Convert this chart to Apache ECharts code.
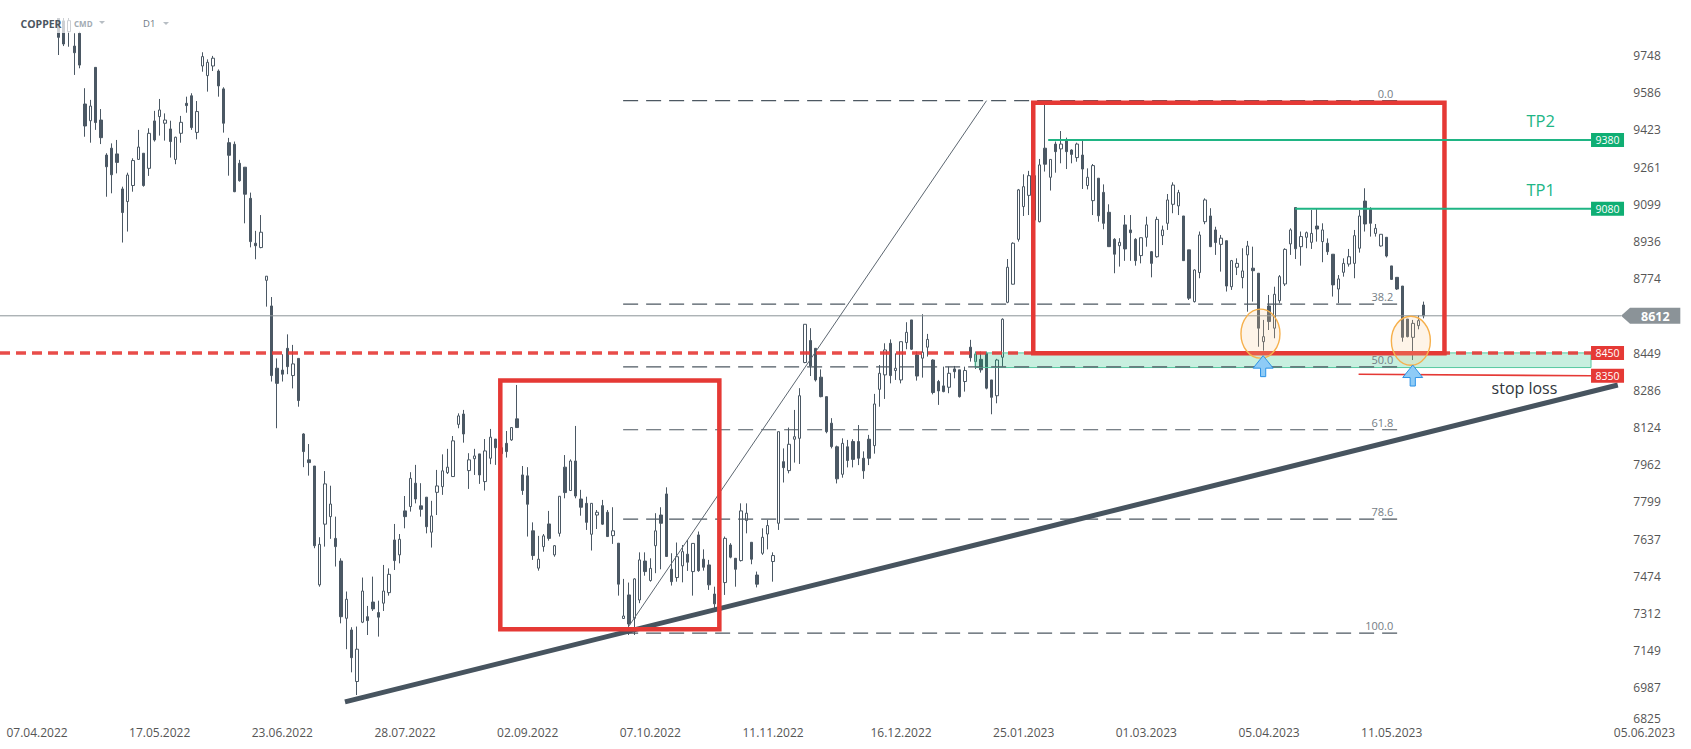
<!DOCTYPE html>
<html>
<head>
<meta charset="utf-8">
<script src="https://cdn.jsdelivr.net/npm/echarts@6/dist/echarts.min.js"></script>
<style>
html,body{margin:0;padding:0;background:#fff;}
#chart{width:1691px;height:749px;}
</style>
</head>
<body>
<div id="chart"></div>
<script>
// ---------------- DATA ----------------
const openP = [
10250,10350,10300,10220,10290,10410,10330,10180,10100,10060,
9925,9900,9853,9790,9846,9537,9464,9697,9467,9314,
9344,9319,9166,9111,9181,9295,9322,9256,9463,9482,
9453,9428,9295,9409,9540,9573,9413,9703,9661,9703,
9681,9603,9368,9361,9278,9261,9125,8929,8910,8767,
8655,8383,8375,8470,8351,8426,8096,7983,7956,7437,
7702,7735,7640,7541,7291,7240,7015,7274,7298,7362,
7316,7357,7403,7633,7568,7760,7779,7881,7782,7820,
7667,7841,7866,7927,7910,8138,8183,7936,7988,8009,
7888,7990,8074,8036,8055,8070,8162,7917,7913,7673,
7510,7604,7703,7568,7662,7951,7849,7978,7812,7793,
7658,7742,7783,7754,7652,7619,7290,7393,7291,7371,
7541,7456,7608,7742,7834,7505,7469,7520,7571,7495,
7655,7549,7524,7397,7350,7447,7611,7553,7543,7718,
7623,7480,7575,7659,7539,7706,7975,7936,8073,8077,
8408,8504,8470,8344,8259,8143,8040,7920,8040,8063,
8063,7990,8073,8045,8291,8354,8492,8373,8332,8495,
8594,8441,8427,8475,8419,8325,8306,8300,8380,8376,
8325,8475,8412,8422,8448,8332,8263,8431,8671,8750,
8946,9089,9138,9224,9023,9344,9217,9362,9341,9380,
9336,9303,9314,9181,9115,9213,9151,9064,8946,8918,
9009,8987,8946,8875,8955,8892,8870,8962,9016,9099,
9092,9048,8900,8674,8801,9023,9048,8987,8924,8940,
8739,8824,8779,8878,8820,8798,8499,8655,8558,8678,
8751,8926,9085,8914,8955,8933,9004,8936,8929,8881,
8729,8802,8838,8841,8907,9113,9077,8972,8917,8955,
8830,8780,8742,8598,8518,8569,8659];
const highP = [
10380,10420,10330,10320,10450,10440,10360,10230,10160,10100,
9960,9920,9915,9846,9853,9606,9555,9697,9515,9322,
9365,9380,9176,9237,9300,9424,9322,9431,9507,9559,
9496,9464,9394,9485,9569,9584,9550,9763,9732,9747,
9688,9610,9389,9373,9293,9261,9150,8983,9052,8785,
8694,8426,8444,8531,8485,8426,8099,8052,7956,7645,
7934,7870,7735,7553,7408,7252,7255,7469,7345,7473,
7368,7524,7509,7703,7659,7825,7929,7961,7881,7820,
7804,7939,8007,8031,8087,8186,8201,8012,8031,8009,
8074,8118,8074,8070,8109,8126,8310,7956,7951,7710,
7651,7659,7760,7611,7825,8004,7985,8131,7852,7822,
7794,7764,7808,7764,7776,7619,7463,7447,7466,7579,
7579,7553,7750,7776,7863,7575,7622,7611,7633,7619,
7670,7592,7546,7429,7440,7648,7619,7553,7793,7793,
7623,7495,7684,7721,7579,8106,8033,8124,8201,8296,
8575,8558,8470,8378,8259,8165,8045,8077,8070,8073,
8135,8020,8092,8271,8397,8492,8509,8448,8499,8584,
8594,8456,8619,8533,8422,8332,8390,8390,8393,8376,
8390,8507,8456,8456,8456,8332,8424,8601,8860,8933,
9166,9230,9245,9260,9297,9533,9296,9373,9419,9390,
9339,9368,9380,9256,9275,9213,9186,9099,8951,8951,
9052,9052,8951,8953,9045,8895,9045,9006,9144,9195,
9162,9048,8900,8815,8980,9125,9082,9001,8965,8940,
8856,8863,8907,8939,8914,8798,8594,8703,8739,8790,
8907,8994,9086,8980,8980,9074,9081,9016,8950,8881,
8790,8863,8904,8987,9074,9169,9086,9013,8968,8955,
8830,8780,8742,8598,8594,8613,8674];
const lowP = [
10200,10280,10180,10150,10260,10300,10150,10050,10020,9995,
9751,9790,9787,9664,9693,9394,9368,9424,9362,9132,
9147,9234,8932,8980,9154,9293,9176,9223,9373,9399,
9377,9303,9274,9368,9499,9424,9383,9678,9591,9681,
9569,9412,9224,9152,9198,9016,8911,8859,8907,8652,
8325,8121,8325,8357,8295,8215,7951,7914,7597,7429,
7604,7638,7517,7269,7156,7055,6956,7270,7218,7323,
7211,7323,7390,7502,7531,7684,7757,7793,7735,7662,
7600,7742,7830,7921,7908,8121,8058,7856,7917,7878,
7849,7964,7961,7990,7993,8066,8122,7830,7648,7546,
7499,7582,7630,7560,7648,7815,7847,7815,7739,7677,
7587,7681,7699,7647,7616,7390,7288,7218,7218,7357,
7477,7451,7488,7505,7560,7434,7451,7448,7498,7390,
7494,7499,7415,7335,7320,7393,7553,7429,7539,7662,
7527,7426,7568,7592,7451,7677,7884,7924,7971,7965,
8405,8349,8325,8256,8099,8033,7880,7905,7950,7950,
7960,7900,7960,8010,8215,8249,8317,8332,8317,8466,
8463,8329,8342,8434,8269,8223,8278,8274,8339,8255,
8281,8412,8380,8364,8291,8182,8230,8390,8667,8749,
8936,9048,9052,9000,9020,9242,9159,9237,9278,9253,
9278,9285,9166,9164,9052,9023,8990,8914,8798,8827,
8852,8852,8831,8841,8914,8780,8866,8921,8987,9060,
9052,8853,8681,8670,8776,9012,8912,8878,8805,8718,
8725,8790,8732,8630,8674,8477,8460,8550,8514,8667,
8742,8878,8860,8831,8907,8904,8936,8846,8878,8696,
8667,8783,8827,8776,8888,8980,8958,8958,8914,8867,
8769,8725,8499,8518,8419,8553,8601];
const closeP = [
10350,10300,10220,10290,10410,10330,10180,10100,10060,10030,
9828,9799,9901,9761,9707,9441,9528,9456,9390,9263,
9228,9282,9063,9227,9290,9349,9181,9409,9380,9511,
9467,9373,9392,9457,9530,9434,9504,9744,9719,9737,
9616,9453,9313,9154,9202,9143,8936,8918,8977,8785,
8351,8317,8357,8390,8402,8242,8019,7971,7608,7614,
7878,7790,7604,7298,7374,7119,7156,7410,7281,7332,
7296,7410,7483,7543,7636,7735,7902,7812,7767,7691,
7738,7869,7935,7951,8066,8175,8096,7983,8000,7917,
8022,8082,8036,8010,8019,8124,8124,7849,7789,7565,
7549,7651,7640,7608,7824,7840,7978,7825,7776,7710,
7793,7754,7702,7648,7673,7440,7301,7266,7463,7546,
7495,7509,7673,7706,7561,7451,7560,7582,7536,7618,
7499,7514,7437,7354,7420,7640,7558,7505,7760,7750,
7549,7440,7645,7696,7565,8106,7949,8051,8084,8263,
8575,8393,8332,8259,8106,8041,7900,8055,7980,7985,
7990,7935,7990,8227,8361,8463,8351,8383,8499,8540,
8466,8349,8453,8509,8277,8284,8281,8361,8368,8259,
8373,8429,8444,8376,8296,8256,8419,8597,8824,8929,
9162,9176,9224,9030,9271,9274,9295,9329,9362,9329,
9317,9362,9253,9217,9268,9049,9016,8914,8881,8933,
8904,8975,8853,8953,9009,8841,9033,8987,9118,9183,
9150,8853,8689,8812,8965,9118,8914,8932,8951,8742,
8853,8841,8808,8917,8809,8558,8521,8587,8706,8783,
8902,8987,8905,8958,8975,8972,8991,8987,8892,8747,
8773,8841,8870,8962,9048,9013,9016,8994,8968,8873,
8771,8729,8518,8521,8579,8591,8612];

const slotCount = 303;                        // daily slots on the axis (incl. empty future)
const xTickLabels = ['07.04.2022','17.05.2022','23.06.2022','28.07.2022','02.09.2022','07.10.2022',
                     '11.11.2022','16.12.2022','25.01.2023','01.03.2023','05.04.2023','11.05.2023'];
const xTickSlots  = [6,29,52,75,98,121,144,168,191,214,237,260];
const xLastLabel  = '05.06.2023';
const yTickLabels = ['6825','6987','7149','7312','7474','7637','7799','7962','8124','8286',
                     '8449','8612','8774','8936','9099','9261','9423','9586','9748'];
const yMin = 6825, yMax = 9991.2, yStep = 162.43;

const lastPrice = 8612;
const tpLevels = [9380, 9080];
const tpNames = ['TP2', 'TP1'];
const tpStart = [195.6, 241.9];
const slLevel = 8350, slStart = 253.8;
const entryLevel = 8450;
const zoneLow = 8386, zoneStart = 181.9;
const fibHigh = 9551.6, fibLow = 7226;
const fibLevels = [0, 38.2, 50, 61.8, 78.6, 100];
const fibNames = ['0.0','38.2','50.0','61.8','78.6','100.0'];
const fibFrom = 115.9, fibTo = 261.1, fibLabelAt = 260.3;
const fibSwing = [[116.07, fibLow], [184.04, fibHigh]];
const trendLine = [[63.75, 6926], [302.4, 8310]];
const boxes = [[192.8, 9543, 269.9, 8449], [92.87, 8330, 133.94, 7243]];
const touchMarks = [[235.4, 8534], [263.6, 8503]];
const arrowTips = [[235.9, 8438], [263.95, 8397]];

// ---------------- BUILD ----------------
const FONT = '"Open Sans", "DejaVu Sans", sans-serif';
const candleColor = '#4b5864';
const categories = Array.from({length: slotCount}, (_, i) => 'b' + i);
const candleData = openP.map((o, i) => [o, closeP[i], lowP[i], highP[i]]);
const tickAt = {};
xTickSlots.forEach((s, k) => { tickAt[s] = xTickLabels[k]; });

function renderAnnotations(params, api) {
  const cs = params.coordSys;
  const gr = cs.x + cs.width;
  const X = i => api.coord([i, 8000])[0];
  const Y = p => api.coord([0, p])[1];
  const badgeL = gr - 27.3, badgeW = 33, badgeH = 14;
  const el = [];
  // support zone
  el.push({type:'rect', shape:{x:X(zoneStart), y:Y(entryLevel), width:badgeL - X(zoneStart), height:Y(zoneLow) - Y(entryLevel)},
           style:{fill:'rgba(0,180,110,0.22)', stroke:'#55c9a0', lineWidth:1}});
  // current price line
  el.push({type:'line', shape:{x1:0, y1:Y(lastPrice), x2:gr + 2.7, y2:Y(lastPrice)}, style:{stroke:'#8b9398', lineWidth:1}});
  // fibonacci
  fibLevels.forEach((lv, k) => {
    const y = Y(fibHigh - lv / 100 * (fibHigh - fibLow));
    el.push({type:'line', shape:{x1:X(fibFrom), y1:y, x2:X(fibTo), y2:y}, style:{stroke:'#4d5862', lineWidth:1.2, lineDash:[15,8]}});
    el.push({type:'text', style:{text:fibNames[k], x:X(fibLabelAt), y:y - 7.5, align:'right', verticalAlign:'middle', fill:'#747d85', font:'11px ' + FONT}});
  });
  el.push({type:'line', shape:{x1:X(fibSwing[0][0]), y1:Y(fibSwing[0][1]), x2:X(fibSwing[1][0]), y2:Y(fibSwing[1][1])}, style:{stroke:'#5c6670', lineWidth:1}});
  // entry dashed line
  el.push({type:'line', shape:{x1:0, y1:Y(entryLevel), x2:badgeL, y2:Y(entryLevel)}, style:{stroke:'#e53935', lineWidth:3.5, lineDash:[10,6], opacity:0.9}});
  // trend line
  el.push({type:'line', shape:{x1:X(trendLine[0][0]), y1:Y(trendLine[0][1]), x2:X(trendLine[1][0]), y2:Y(trendLine[1][1])}, style:{stroke:'#47545f', lineWidth:5}});
  // boxes
  boxes.forEach(b => {
    el.push({type:'rect', shape:{x:X(b[0]), y:Y(b[1]), width:X(b[2]) - X(b[0]), height:Y(b[3]) - Y(b[1])}, style:{fill:'none', stroke:'#e53935', lineWidth:4.5}});
  });
  // TP lines
  tpLevels.forEach((p, k) => {
    el.push({type:'line', shape:{x1:X(tpStart[k]), y1:Y(p), x2:badgeL, y2:Y(p)}, style:{stroke:'#1fb584', lineWidth:2}});
    el.push({type:'text', style:{text:tpNames[k], x:X(287.95), y:Y(p) - 19, align:'center', verticalAlign:'middle', fill:'#20b585', font:'16.5px ' + FONT}});
  });
  // stop loss
  el.push({type:'line', shape:{x1:X(slStart), y1:Y(slLevel) - 1.5, x2:badgeL, y2:Y(slLevel)}, style:{stroke:'#e53935', lineWidth:1.6}});
  el.push({type:'text', style:{text:'stop loss', x:X(284.9), y:Y(slLevel) + 12.5, align:'center', verticalAlign:'middle', fill:'#30363b', font:'16px ' + FONT}});
  // touch ellipses
  touchMarks.forEach(t => {
    el.push({type:'ellipse', shape:{cx:X(t[0]), cy:Y(t[1]), rx:19.5, ry:24.5}, style:{fill:'rgba(252,206,150,0.22)', stroke:'#f6b04c', lineWidth:1.4}});
  });
  // arrows
  arrowTips.forEach(a => {
    const x = X(a[0]), y = Y(a[1]);
    el.push({type:'polygon', shape:{points:[[x,y],[x+10,y+12.5],[x+2.6,y+12.5],[x+2.6,y+21],[x-2.6,y+21],[x-2.6,y+12.5],[x-10,y+12.5]]},
             style:{fill:'#8ecbf6', stroke:'#2c92e6', lineWidth:1}});
  });
  // badges
  const badge = (p, color, txt) => {
    const y = Y(p);
    el.push({type:'rect', shape:{x:badgeL, y:y - badgeH / 2, width:badgeW, height:badgeH}, style:{fill:color}});
    el.push({type:'text', style:{text:txt, x:badgeL + badgeW / 2, y:y, align:'center', verticalAlign:'middle', fill:'#fff', font:'10.5px ' + FONT}});
  };
  tpLevels.forEach(p => badge(p, '#0fae73', String(p)));
  badge(entryLevel, '#e53935', String(entryLevel));
  badge(slLevel, '#e53935', String(slLevel));
  const yl = Y(lastPrice);
  el.push({type:'polygon', shape:{points:[[gr + 2.7, yl],[gr + 11.7, yl - 8],[gr + 62, yl - 8],[gr + 62, yl + 8],[gr + 11.7, yl + 8]]}, style:{fill:'#8b9398'}});
  el.push({type:'text', style:{text:String(lastPrice), x:gr + 37, y:yl + 0.5, align:'center', verticalAlign:'middle', fill:'#fff', font:'bold 12.5px ' + FONT}});
  // last x label (future edge)
  el.push({type:'text', style:{text:xLastLabel, x:X(307.4), y:cs.y + cs.height + 7.5, align:'center', verticalAlign:'middle', fill:'#555', font:'12px ' + FONT, lineHeight:13}});
  return {type:'group', children: el};
}

const chart = echarts.init(document.getElementById('chart'), null, {renderer:'svg', width:1691, height:749});
chart.setOption({
  animation: false,
  backgroundColor: '#fff',
  grid: {left: 2.33, top: 0, width: slotCount * 16 / 3, height: 725, outerBoundsMode: 'none', containLabel: false},
  xAxis: [
    {type:'category', data:categories, boundaryGap:true,
     axisLine:{show:false}, axisTick:{show:false}, splitLine:{show:false},
     axisLabel:{interval:(idx) => tickAt[idx] !== undefined, formatter:(v, idx) => tickAt[idx] || '',
                color:'#555', fontSize:12, lineHeight:13, fontFamily:FONT, margin:1}},
    {type:'value', min:-0.5, max:slotCount - 0.5, show:false}
  ],
  yAxis: {type:'value', position:'right', min:yMin, max:yMax, interval:yStep, scale:true,
    axisLine:{show:false}, axisTick:{show:false}, splitLine:{show:false},
    axisLabel:{margin:15, color:'#555', fontSize:12, lineHeight:13, fontFamily:FONT,
      formatter:(v) => {
        const k = Math.round((v - yMin) / yStep);
        if (k < 0 || k >= yTickLabels.length || Math.abs(v - (yMin + k * yStep)) > 1) return '';
        if (Number(yTickLabels[k]) === lastPrice) return '';      // covered by the last-price badge
        return k === 0 ? '{b|' + yTickLabels[k] + '}' : yTickLabels[k];
      },
      rich:{b:{color:'#555', fontSize:12, lineHeight:13, fontFamily:FONT, padding:[0,0,14,0]}}}},
  series: [
    {type:'candlestick', data:candleData, barWidth:3, clip:true,
     itemStyle:{color:'#ffffff', color0:candleColor, borderColor:candleColor, borderColor0:candleColor, borderWidth:1}},
    {type:'custom', xAxisIndex:1, yAxisIndex:0, data:[[0, 8000]], renderItem:renderAnnotations, clip:false, silent:true, z:5}
  ],
  graphic: [
    {type:'rect', left:0, top:0, shape:{width:190, height:18}, style:{fill:'#ffffff'}, z:100},
    {type:'rect', left:0, top:18, shape:{width:190, height:15}, style:{fill:'rgba(255,255,255,0.72)'}, z:100},
    {type:'text', x:20.5, y:23.5, style:{text:'COPPER', font:'bold 10.5px ' + FONT, fill:'#4b5560', verticalAlign:'middle'}, z:101},
    {type:'text', x:74, y:23.5, style:{text:'CMD', font:'bold 8px ' + FONT, fill:'#a2abb3', verticalAlign:'middle'}, z:101},
    {type:'polygon', shape:{points:[[99,21],[105,21],[102,24]]}, style:{fill:'#b7bec4'}, z:101},
    {type:'text', x:143, y:23.5, style:{text:'D1', font:'9.5px ' + FONT, fill:'#6f7a84', verticalAlign:'middle'}, z:101},
    {type:'polygon', shape:{points:[[163,22],[169,22],[166,25]]}, style:{fill:'#b7bec4'}, z:101}
  ]
});
</script>
</body>
</html>
